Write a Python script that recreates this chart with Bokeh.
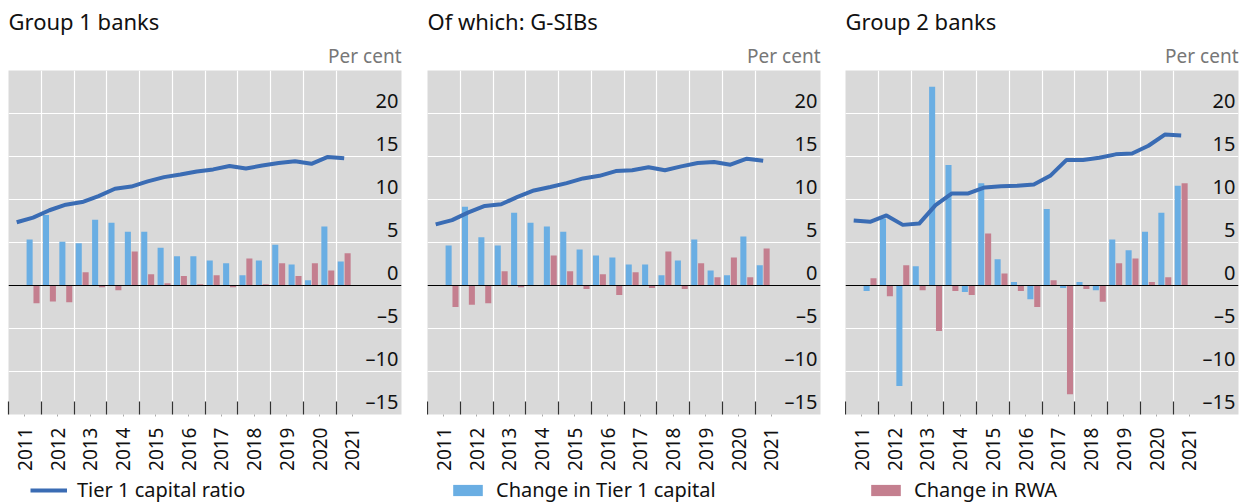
import math
from bokeh.plotting import figure
from bokeh.layouts import row, column
from bokeh.models import (ColumnDataSource, FixedTicker, Span, Title, Legend, LegendItem, Range1d)
from bokeh.core.properties import value
from bokeh.embed import file_html
from bokeh.resources import INLINE

# ---------------- data ----------------
periods = ["2011H1", "2011H2", "2012H1", "2012H2", "2013H1", "2013H2", "2014H1", "2014H2",
           "2015H1", "2015H2", "2016H1", "2016H2", "2017H1", "2017H2", "2018H1", "2018H2",
           "2019H1", "2019H2", "2020H1", "2020H2", "2021H1"]
years = [2011, 2012, 2013, 2014, 2015, 2016, 2017, 2018, 2019, 2020, 2021]

titles = ["Group 1 banks", "Of which: G-SIBs", "Group 2 banks"]

ratio_g1 = [7.35, 7.9, 8.75, 9.4, 9.7, 10.4, 11.25, 11.5, 12.1, 12.6, 12.9, 13.25,
            13.5, 13.9, 13.6, 13.95, 14.25, 14.45, 14.15, 14.95, 14.8]
cap_g1 = [5.35, 8.2, 5.1, 4.9, 7.65, 7.3, 6.25, 6.25, 4.4, 3.4, 3.4, 2.9,
          2.6, 1.2, 2.9, 4.75, 2.45, 0.6, 6.85, 2.8]
rwa_g1 = [-2.05, -1.85, -1.95, 1.55, -0.2, -0.55, 3.95, 1.3, 0.25, 1.1, 0.15, 1.2,
          -0.2, 3.15, 0.15, 2.6, 1.1, 2.6, 1.75, 3.75]

ratio_gsib = [7.1, 7.6, 8.5, 9.25, 9.45, 10.3, 11.05, 11.45, 11.9, 12.45, 12.75, 13.3,
              13.4, 13.75, 13.4, 13.85, 14.25, 14.35, 14.05, 14.75, 14.5]
cap_gsib = [4.65, 9.15, 5.6, 4.65, 8.45, 7.3, 6.85, 6.25, 4.2, 3.5, 3.25, 2.45,
            2.45, 1.2, 2.9, 5.35, 1.75, 1.2, 5.7, 2.35]
rwa_gsib = [-2.5, -2.25, -2.05, 1.65, -0.2, 0.05, 3.5, 1.65, -0.4, 1.3, -1.1, 1.55,
            -0.3, 3.95, -0.4, 2.6, 0.95, 3.25, 0.95, 4.3]

ratio_g2 = [7.55, 7.4, 8.15, 7.05, 7.2, 9.35, 10.7, 10.7, 11.4, 11.55, 11.6, 11.75,
            12.75, 14.6, 14.6, 14.85, 15.25, 15.35, 16.25, 17.55, 17.45]
cap_g2 = [-0.65, 7.8, -11.7, 2.25, 23.1, 14.0, -0.75, 11.9, 3.05, 0.4, -1.6, 8.9,
          -0.3, 0.4, -0.55, 5.35, 4.1, 6.25, 8.45, 11.6]
rwa_g2 = [0.85, -1.25, 2.35, -0.55, -5.3, -0.65, -1.1, 6.05, 1.4, -0.65, -2.5, 0.6,
          -12.65, -0.4, -1.9, 2.6, 3.15, 0.4, 0.95, 11.9]

ratios = [ratio_g1, ratio_gsib, ratio_g2]
caps = [cap_g1, cap_gsib, cap_g2]
rwas = [rwa_g1, rwa_gsib, rwa_g2]

y_ticks = [-15, -10, -5, 0, 5, 10, 15, 20]
y_tick_labels = ["\u201315", "\u201310", "\u20135", "0", "5", "10", "15", "20"]
grid_values = [-10, -5, 5, 10, 15, 20]
legend_labels = ["Tier 1 capital ratio", "Change in Tier 1 capital", "Change in RWA"]

# ---------------- styling ----------------
FONT = "Noto Sans"
C_LINE = "#3a6cb4"
C_CAP = "#6aaee3"
C_RWA = "#c47f8f"
BG = "#d9d9d9"

x_start, x_end = 2011, 2023
y_start, y_end = -15, 25

def period_pos(p):
    return int(p[:4]) + (0.25 if p.endswith("H1") else 0.75)

xpos = [period_pos(p) for p in periods]
bar_x = xpos[1:]
OFF = 0.105
BW = 0.185

cols = []
for i in range(3):
    left_border = [8, 0, 0][i]
    right_border = [26, 25, 12][i]
    p = figure(frame_width=393, frame_height=344, output_backend="svg", toolbar_location=None,
               x_range=Range1d(x_start, x_end), y_range=Range1d(y_start, y_end),
               y_axis_location=None, min_border_left=left_border, min_border_right=right_border,
               min_border_top=0, min_border_bottom=62, title=None)
    p.background_fill_color = BG
    p.border_fill_color = "white"
    p.outline_line_color = None

    # titles
    p.add_layout(Title(text="Per cent", align="right", text_font=FONT, text_font_size="19px",
                       text_color="#777777", text_font_style="normal", standoff=4), "above")
    p.add_layout(Title(text=titles[i], align="left", text_font=FONT, text_font_size="22px",
                       text_color="#111111", text_font_style="normal", standoff=6), "above")

    # grids
    p.xgrid.ticker = FixedTicker(ticks=years[1:])
    p.ygrid.ticker = FixedTicker(ticks=grid_values)
    p.xgrid.grid_line_color = "white"
    p.ygrid.grid_line_color = "white"
    p.xgrid.grid_line_width = 1.2
    p.ygrid.grid_line_width = 1.2

    # x axis
    xa = p.xaxis[0]
    centers = [y + 0.5 for y in years]
    xa.ticker = FixedTicker(ticks=centers, minor_ticks=years)
    xa.major_label_overrides = {c: str(y) for c, y in zip(centers, years)}
    xa.major_label_orientation = math.pi / 2
    xa.major_label_text_font = FONT
    xa.major_label_text_font_size = "19px"
    xa.major_label_text_color = "#111111"
    xa.major_label_standoff = 11
    xa.axis_line_color = None
    xa.major_tick_in = 0
    xa.major_tick_out = 2
    xa.major_tick_line_color = "#aaaaaa"
    xa.minor_tick_in = 13
    xa.minor_tick_out = 0
    xa.minor_tick_line_color = "#333333"
    xa.minor_tick_line_width = 1.2

    src = ColumnDataSource(dict(x_cap=[x - OFF for x in bar_x], x_rwa=[x + OFF for x in bar_x],
                                cap=caps[i], rwa=rwas[i]))
    p.vbar(x="x_cap", top="cap", bottom=0, width=BW, source=src, fill_color=C_CAP, line_color=None)
    p.vbar(x="x_rwa", top="rwa", bottom=0, width=BW, source=src, fill_color=C_RWA, line_color=None)
    p.line(xpos, ratios[i], line_color=C_LINE, line_width=4, line_join="round")

    p.add_layout(Span(location=0, dimension="width", line_color="black", line_width=1.2))

    # y tick labels inside the frame, right-aligned, sitting above their gridlines
    p.text(x=[x_end] * len(y_ticks), y=y_ticks, text=y_tick_labels, text_align="right",
           text_baseline="alphabetic", x_offset=-3, y_offset=-13, text_font=value(FONT),
           text_font_size="20px", text_color="#111111")

    # legend strip: a small figure under each panel; its y range lies far above the data,
    # so only the legend swatch is visible
    lf = figure(frame_width=393, frame_height=27, output_backend="svg", toolbar_location=None,
                x_range=Range1d(x_start, x_end), y_range=Range1d(y_end * 4, y_end * 4 + 1),
                x_axis_location=None, y_axis_location=None, min_border_left=left_border,
                min_border_right=right_border, min_border_top=0, min_border_bottom=0, title=None)
    lf.outline_line_color = None
    lf.grid.visible = False
    lf.background_fill_color = "white"
    if i == 0:
        rend = lf.line(xpos, ratios[i], line_color=C_LINE, line_width=4)
    elif i == 1:
        rend = lf.vbar(x=bar_x, top=caps[i], width=BW, fill_color=C_CAP, line_color=None)
    else:
        rend = lf.vbar(x=bar_x, top=rwas[i], width=BW, fill_color=C_RWA, line_color=None)
    leg = Legend(items=[LegendItem(label=legend_labels[i], renderers=[rend])],
                 location=(22, 0), orientation="horizontal", background_fill_alpha=0,
                 border_line_color=None, padding=0, margin=0, glyph_width=37, glyph_height=14,
                 label_standoff=10, label_text_font=FONT, label_text_font_size="20px",
                 label_text_color="#111111")
    lf.add_layout(leg, "center")

    cols.append(column(p, lf, spacing=0))

layout = row(*cols, spacing=0)
open("out.html", "w").write(file_html(layout, INLINE))
